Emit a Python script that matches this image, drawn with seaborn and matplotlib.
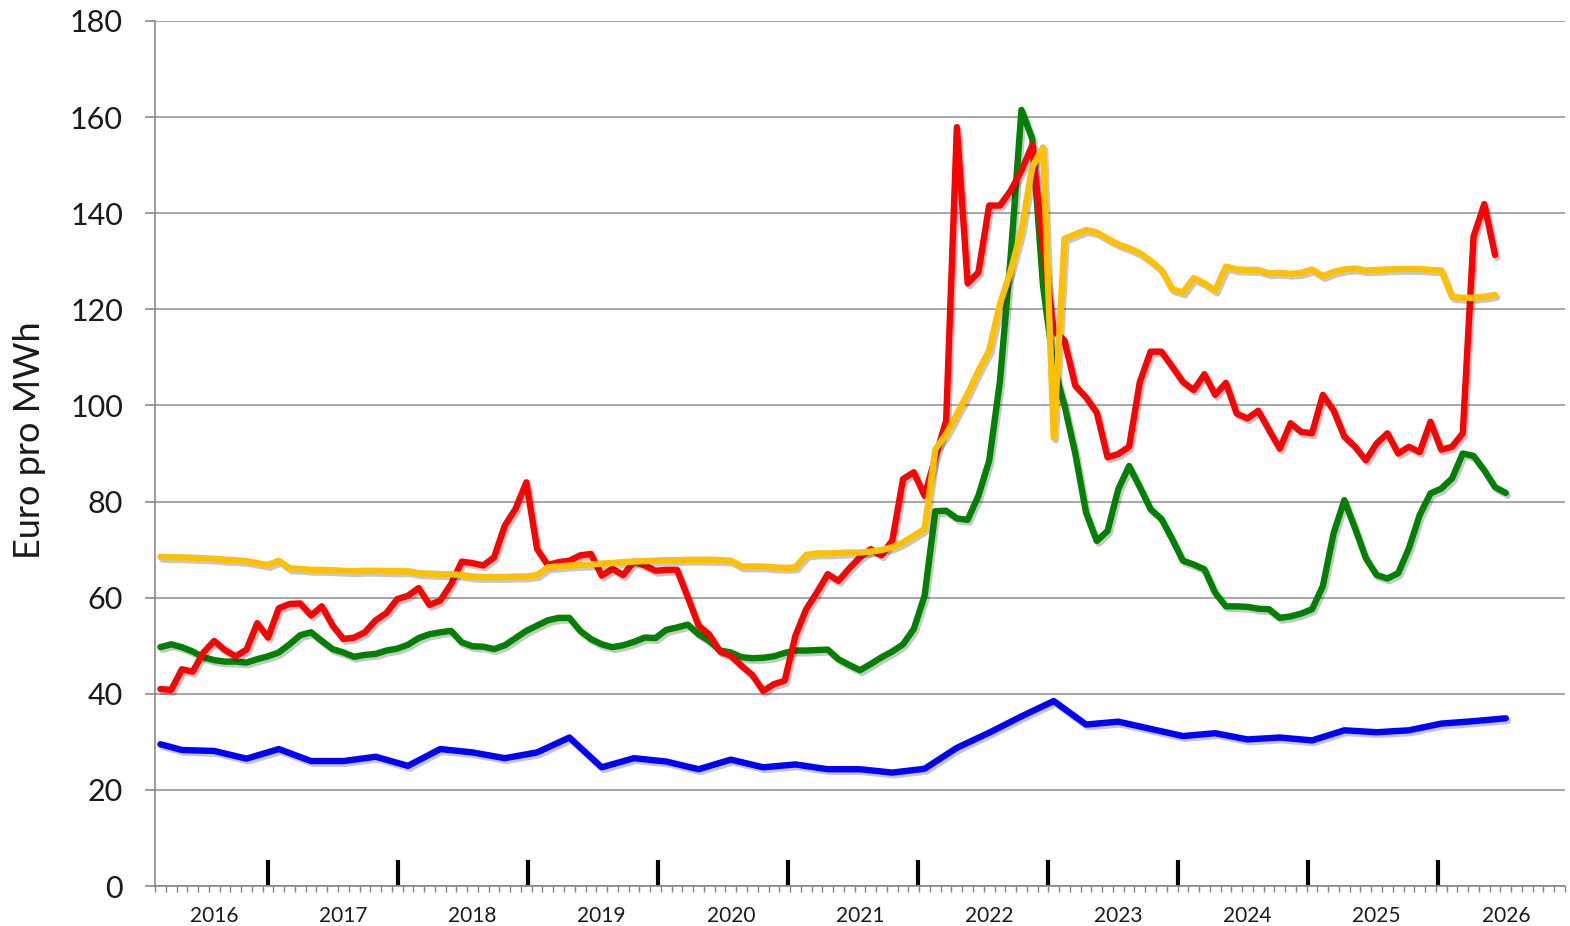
import numpy as np
import pandas as pd
import matplotlib
matplotlib.use("Agg")
import matplotlib.pyplot as plt
import matplotlib.transforms as mtransforms
from matplotlib import patheffects as pe
import seaborn as sns

# ---------------- data (monthly, index 0 = first month shown) ----------------
red = [41.0, 40.8, 45.1, 44.6, 48.6, 51.0, 49.1, 47.8, 49.2, 54.7, 51.7, 57.8,
       58.7, 58.8, 56.3, 58.2, 54.2, 51.4, 51.7, 52.8, 55.3, 56.8, 59.7, 60.4,
       62.0, 58.5, 59.4, 62.8, 67.5, 67.2, 66.7, 68.4, 75.0, 78.5, 84.0, 70.1,
       66.8, 67.4, 67.7, 68.8, 69.1, 64.6, 66.0, 64.7, 67.5, 66.7, 65.6, 65.8,
       65.8, 60.1, 54.2, 52.3, 48.8, 47.9, 45.8, 43.9, 40.6, 42.0, 42.7, 52.1,
       57.6, 61.1, 64.9, 63.5, 66.1, 68.4, 70.1, 68.8, 71.9, 84.7, 86.1, 81.2,
       89.2, 96.8, 157.9, 125.4, 127.7, 141.6, 141.6, 144.7, 148.9, 154.1, 133.0, 115.6,
       113.5, 104.1, 101.7, 98.5, 89.2, 89.9, 91.4, 104.9, 111.2, 111.2, 108.1, 104.9,
       103.2, 106.5, 102.2, 104.7, 98.3, 97.3, 98.9, 94.9, 91.0, 96.3, 94.5, 94.2,
       102.2, 99.0, 93.5, 91.4, 88.6, 92.1, 94.2, 90.0, 91.4, 90.3, 96.6, 90.8,
       91.4, 94.2, 135.1, 141.9, 131.3]

green = [49.7, 50.3, 49.7, 48.8, 47.6, 47.0, 46.7, 46.7, 46.5, 47.2, 47.8, 48.6,
         50.3, 52.2, 52.8, 51.0, 49.3, 48.6, 47.7, 48.1, 48.3, 49.0, 49.4, 50.2,
         51.6, 52.4, 52.8, 53.1, 50.7, 49.9, 49.8, 49.3, 50.1, 51.6, 53.1, 54.2,
         55.3, 55.8, 55.8, 53.1, 51.4, 50.3, 49.7, 50.1, 50.8, 51.7, 51.6, 53.3,
         53.8, 54.4, 52.4, 51.0, 49.0, 48.6, 47.6, 47.4, 47.5, 47.8, 48.5, 49.0,
         49.0, 49.1, 49.2, 47.2, 46.0, 44.9, 46.2, 47.6, 48.8, 50.3, 53.5, 60.4,
         78.0, 78.1, 76.5, 76.2, 81.2, 88.5, 105.0, 131.0, 161.5, 155.5, 125.0, 108.0,
         100.0, 90.0, 77.7, 71.8, 73.9, 82.6, 87.4, 83.0, 78.4, 76.4, 72.2, 67.7,
         66.9, 65.9, 61.0, 58.2, 58.2, 58.1, 57.7, 57.6, 55.8, 56.1, 56.7, 57.6,
         62.4, 73.4, 80.3, 74.4, 68.2, 64.7, 64.0, 65.1, 70.3, 77.2, 81.7, 82.7,
         84.8, 90.0, 89.5, 86.5, 83.0, 81.8]

yellow = [68.5, 68.4, 68.4, 68.3, 68.2, 68.1, 67.9, 67.8, 67.6, 67.2, 66.8, 67.7,
          66.1, 66.0, 65.8, 65.8, 65.7, 65.6, 65.5, 65.6, 65.6, 65.5, 65.5, 65.5,
          65.1, 65.0, 64.9, 64.9, 64.7, 64.4, 64.3, 64.3, 64.3, 64.4, 64.4, 64.7,
          66.3, 66.5, 66.7, 66.8, 66.9, 67.1, 67.2, 67.4, 67.5, 67.6, 67.7, 67.8,
          67.8, 67.9, 67.9, 67.9, 67.8, 67.7, 66.5, 66.5, 66.5, 66.3, 66.2, 66.3,
          68.9, 69.2, 69.2, 69.3, 69.4, 69.4, 69.6, 69.9, 70.5, 71.5, 72.9, 74.3,
          90.9, 94.0, 98.2, 102.4, 107.2, 111.4, 121.1, 128.0, 136.4, 149.6, 153.7, 93.3,
          134.7, 135.6, 136.5, 136.0, 134.7, 133.5, 132.7, 131.7, 130.1, 128.2, 124.2, 123.5,
          126.5, 125.4, 123.9, 128.9, 128.3, 128.2, 128.2, 127.5, 127.6, 127.4, 127.6, 128.3,
          126.9, 127.8, 128.3, 128.5, 128.1, 128.2, 128.3, 128.4, 128.4, 128.4, 128.2, 128.1,
          122.6, 122.4, 122.4, 122.6, 123.0]

# blue series is quarterly
blue_months = [0, 2, 5, 8, 11, 14, 17, 20, 23, 26, 29, 32, 35, 38, 41, 44, 47, 50,
               53, 56, 59, 62, 65, 68, 71, 74, 77, 80, 83, 86, 89, 92, 95, 98, 101,
               104, 107, 110, 113, 116, 119, 122, 125]
blue = [29.5, 28.3, 28.1, 26.5, 28.5, 26.0, 26.0, 26.9, 25.0, 28.5, 27.8, 26.6,
        27.8, 30.9, 24.7, 26.6, 25.9, 24.3, 26.3, 24.7, 25.3, 24.3, 24.3, 23.6,
        24.4, 28.75, 31.9, 35.3, 38.5, 33.6, 34.2, 32.7, 31.2, 31.8, 30.5, 30.9,
        30.3, 32.4, 32.0, 32.4, 33.8, 34.3, 34.9]

year_labels = [str(y) for y in range(2016, 2027)]
y_ticks = list(range(0, 181, 20))
n_months = 131

# ---------------- figure ----------------
sns.set_theme(style="white")
plt.rcParams['font.family'] = ['Lato', 'DejaVu Sans']

W, H = 1570, 926
fig = plt.figure(figsize=(W / 100, H / 100), dpi=100)
ax = fig.add_axes([155 / W, 40 / H, 1410 / W, 865 / H])

frames = [
    pd.DataFrame({'Monat': blue_months, 'Preis': blue, 'Serie': 'blau'}),
    pd.DataFrame({'Monat': np.arange(len(green)), 'Preis': green, 'Serie': 'gruen'}),
    pd.DataFrame({'Monat': np.arange(len(red)), 'Preis': red, 'Serie': 'rot'}),
    pd.DataFrame({'Monat': np.arange(len(yellow)), 'Preis': yellow, 'Serie': 'gelb'}),
]
df = pd.concat(frames, ignore_index=True)
palette = {'blau': '#0000FF', 'gruen': '#008000', 'rot': '#FF0000', 'gelb': '#FFC000'}
order = ['blau', 'gruen', 'rot', 'gelb']

sns.lineplot(data=df, x='Monat', y='Preis', hue='Serie', hue_order=order,
             palette=palette, linewidth=4.6, legend=False, ax=ax,
             estimator=None, sort=False)

for ln in ax.lines:
    ln.set_solid_joinstyle('round')
    ln.set_solid_capstyle('round')
    ln.set_path_effects([pe.SimpleLineShadow(offset=(1.5, -2.0), shadow_color='black', alpha=0.22),
                         pe.Normal()])

ax.set_xlim(-0.5, n_months - 0.5)
ax.set_ylim(0, 180)
ax.set_yticks(y_ticks)
ax.set_yticklabels([str(v) for v in y_ticks])
ax.yaxis.grid(True, color='#A6A6A6', linewidth=1.4)
ax.xaxis.grid(False)
ax.set_axisbelow(True)

for s in ['top', 'right']:
    ax.spines[s].set_visible(False)
for s in ['left', 'bottom']:
    ax.spines[s].set_color('#808080')
    ax.spines[s].set_linewidth(1.1)

ax.tick_params(axis='y', direction='out', length=7, width=1.1, color='#808080',
               labelsize=22, pad=16, labelcolor='#1a1a1a', left=True)

# thick black year marks (major ticks, pointing up into the plot)
thick = [10 + 12.08 * k for k in range(10)]
ax.set_xticks(thick)
ax.set_xticklabels([''] * len(thick))
ax.tick_params(axis='x', which='major', direction='in', length=19, width=3.0,
               color='black', bottom=True)
ax.set_xticks(np.arange(-0.5, n_months, 1.0), minor=True)
ax.tick_params(axis='x', which='minor', direction='out', length=4.5, width=1.0,
               color='#808080', bottom=True)

trans = mtransforms.blended_transform_factory(ax.transData, ax.transAxes)
for k, lab in enumerate(year_labels):
    ax.text(5 + 12 * k, -30 / 865, lab, transform=trans, ha='center', va='center',
            fontsize=15, color='#1a1a1a')

ax.set_xlabel('')
ax.set_ylabel('Euro pro MWh', fontsize=26, color='#1a1a1a')
ax.yaxis.set_label_coords((46 - 155) / 1410, (886 - 440) / 865)

fig.savefig('out.png', dpi=100)
